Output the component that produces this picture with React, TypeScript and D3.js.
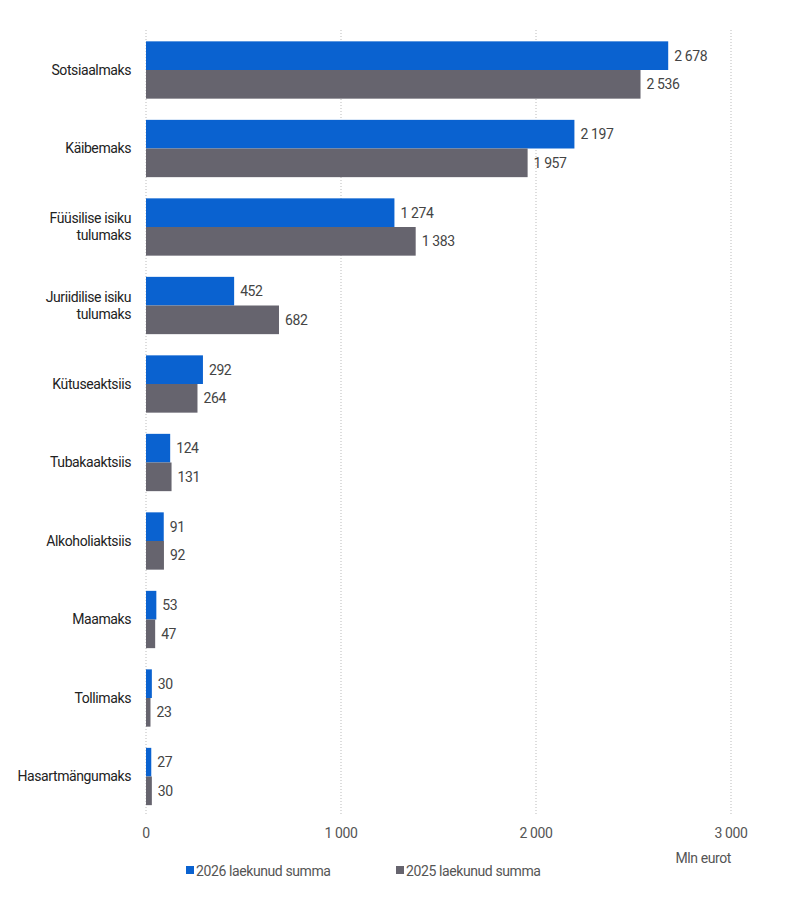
import * as d3 from "d3";
import React from "react";

const categories = [
  "Sotsiaalmaks",
  "Käibemaks",
  "Füüsilise isiku\ntulumaks",
  "Juriidilise isiku\ntulumaks",
  "Kütuseaktsiis",
  "Tubakaaktsiis",
  "Alkoholiaktsiis",
  "Maamaks",
  "Tollimaks",
  "Hasartmängumaks",
];
const values2026 = [2678, 2197, 1274, 452, 292, 124, 91, 53, 30, 27];
const values2025 = [2536, 1957, 1383, 682, 264, 131, 92, 47, 23, 30];
const xTicks = [0, 1000, 2000, 3000];
const seriesNames = ["2026 laekunud summa", "2025 laekunud summa"];

const W = 786;
const H = 902;
const BLUE = "#0a62d0";
const GREY = "#66646e";
const FONT = "Roboto, sans-serif";
const fmt = (v: number) => d3.format(",")(v).replace(/,/g, " ");

const App: React.FC = () => {
  const x = d3.scaleLinear().domain([0, 3000]).range([146, 731]);
  const y = d3
    .scaleBand()
    .domain(categories)
    .range([30.75, 815.75])
    .paddingInner(0.27)
    .paddingOuter(0.135);
  const bh = y.bandwidth() / 2;
  const series = [
    { vals: values2026, color: BLUE, off: 0 },
    { vals: values2025, color: GREY, off: bh },
  ];

  return (
    <svg width={W} height={H} style={{ position: "absolute", left: 0, top: 0 }} fontFamily={FONT}>
      <rect width={W} height={H} fill="#fff" />
      {xTicks.map((t) => (
        <g key={t}>
          {t > 0 && (
            <line x1={x(t)} x2={x(t)} y1={30} y2={816} stroke="#bbb" strokeDasharray="1,2" />
          )}
          <text x={x(t)} y={838} textAnchor="middle" fontSize={14} fill="#555" letterSpacing={-0.4}>
            {fmt(t)}
          </text>
        </g>
      ))}
      <line x1={x(0)} x2={x(0)} y1={30} y2={816} stroke="#bbb" strokeDasharray="1,2" />
      {categories.map((c, i) => {
        const lines = c.split("\n");
        const cy = (y(c) as number) + bh;
        return (
          <g key={c}>
            {lines.map((l, j) => (
              <text
                key={j}
                x={131}
                y={cy + (j - (lines.length - 1) / 2) * 17}
                dy="0.35em"
                textAnchor="end"
                fontSize={14}
                fill="#222"
                letterSpacing={-0.4}
              >
                {l}
              </text>
            ))}
            {series.map((s, k) => (
              <g key={k}>
                <rect
                  x={x(0)}
                  y={(y(c) as number) + s.off}
                  width={x(s.vals[i]) - x(0)}
                  height={bh}
                  fill={s.color}
                />
                <text
                  x={x(s.vals[i]) + 6}
                  y={(y(c) as number) + s.off + bh / 2}
                  dy="0.35em"
                  fontSize={14}
                  fill="#444"
                  letterSpacing={-0.4}
                >
                  {fmt(s.vals[i])}
                </text>
              </g>
            ))}
          </g>
        );
      })}
      <text x={731} y={863} textAnchor="end" fontSize={14} fill="#555" letterSpacing={-0.4}>
        Mln eurot
      </text>
      {seriesNames.map((n, k) => (
        <g key={n} transform={`translate(${186 + k * 210},871)`}>
          <rect x={0} y={-5} width={8} height={8} fill={k === 0 ? BLUE : GREY} />
          <text x={10} y={0} dy="0.35em" fontSize={14} fill="#555" letterSpacing={-0.4}>
            {n}
          </text>
        </g>
      ))}
    </svg>
  );
};

export default App;
